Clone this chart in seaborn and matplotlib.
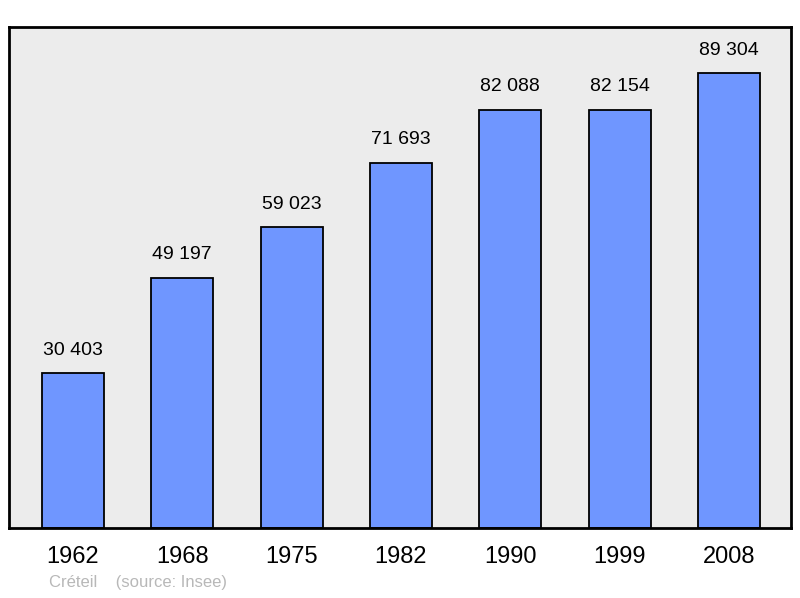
import matplotlib
matplotlib.use("Agg")
import matplotlib.pyplot as plt
import seaborn as sns
import pandas as pd

years = ["1962", "1968", "1975", "1982", "1990", "1999", "2008"]
population = [30403, 49197, 59023, 71693, 82088, 82154, 89304]
value_labels = ["30 403", "49 197", "59 023", "71 693", "82 088", "82 154", "89 304"]

sns.set_theme(style="white")
plt.rcParams['font.family'] = ['Liberation Sans', 'DejaVu Sans']

df = pd.DataFrame({"year": years, "pop": population})

fig = plt.figure(figsize=(8, 5.98), dpi=100)
ax = fig.add_axes([9/800, 1 - 528/598, 782/800, 501/598])
ax.set_facecolor("#ececec")

sns.barplot(data=df, x="year", y="pop", color="#6f96ff", saturation=1,
            width=0.567, edgecolor="black", linewidth=1.3, ax=ax)

ax.set_xlim(-0.585, 6.567)
ax.set_ylim(0, 98400)
ax.set_yticks([])
ax.set_xlabel("")
ax.set_ylabel("")
ax.tick_params(axis="x", length=0, pad=13, labelsize=17, colors="black")

for i, (v, t) in enumerate(zip(population, value_labels)):
    ax.annotate(t, (i, v), xytext=(0, 10.5), textcoords="offset points",
                ha="center", va="bottom", fontsize=14, color="black")

for s in ax.spines.values():
    s.set_visible(True)
    s.set_color("black")
    s.set_linewidth(2)

fig.text(49/800, 1 - 583/598, "Créteil    (source: Insee)", fontsize=12,
         color="#b8b8b8", ha="left", va="center")

fig.savefig("out.png", dpi=100, facecolor="white")
